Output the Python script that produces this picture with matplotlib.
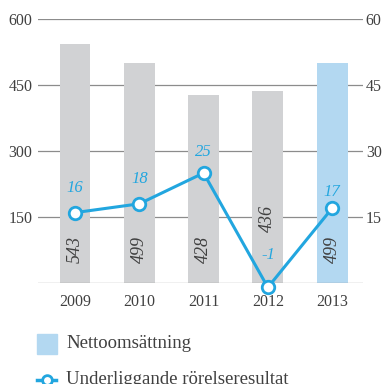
import matplotlib.pyplot as plt
from matplotlib.patches import Rectangle
from matplotlib.lines import Line2D

years = ["2009", "2010", "2011", "2012", "2013"]
sales = [543, 499, 428, 436, 499]
result = [16, 18, 25, -1, 17]
left_ticks = [150, 300, 450, 600]
right_ticks = [15, 30, 45, 60]

GRAY_BAR = "#d1d2d4"
BLUE_BAR = "#b3d8f1"
BLUE = "#22a6df"
TEXT = "#404040"
GRID = "#8c8c8c"

plt.rcParams["font.family"] = ["Liberation Serif", "DejaVu Serif"]

fig = plt.figure(figsize=(3.86, 3.84), dpi=100)
ax = fig.add_axes([0.0984, 0.263, 0.842, 0.6875])
ax2 = ax.twinx()

x = list(range(len(years)))
colors = [GRAY_BAR] * (len(years) - 1) + [BLUE_BAR]
ax.bar(x, sales, width=0.48, color=colors, zorder=2)

ax.set_xlim(-0.576, 4.48)
ax.set_ylim(0, 600)
ax2.set_ylim(0, 60)

# gridlines and baseline
for v in left_ticks:
    ax.axhline(v, color=GRID, lw=0.9, zorder=1)
ax.axhline(0, color=GRID, lw=0.9, zorder=3)

ax.set_yticks(left_ticks)
ax.set_yticklabels([str(v) for v in left_ticks])
ax2.set_yticks(right_ticks)
ax2.set_yticklabels([str(v) for v in right_ticks])
ax.set_xticks(x)
ax.set_xticklabels(years)

ax.tick_params(axis="y", length=0, pad=4, labelsize=11.5, labelcolor=TEXT)
ax2.tick_params(axis="y", length=0, pad=2, labelsize=11.5, labelcolor=TEXT)
ax.tick_params(axis="x", length=0, pad=8, labelsize=11.5, labelcolor=TEXT)

for a in (ax, ax2):
    for s in a.spines.values():
        s.set_visible(False)

# sales values inside bars
for i, v in enumerate(sales):
    ypos = 147 if i == 3 else 77
    ax.text(i, ypos, str(v), rotation=90, ha="center", va="center",
            fontsize=13, style="italic", color=TEXT, zorder=4)

# result line on right axis
ax2.plot(x, result, color=BLUE, lw=2.2, marker="o", markersize=9,
         markerfacecolor="white", markeredgecolor=BLUE, markeredgewidth=2,
         zorder=5, clip_on=False)
offsets = [18, 18, 15, 23, 12]
for i, v in enumerate(result):
    ax2.annotate(str(v), (i, v), xytext=(0, offsets[i]), textcoords="offset points",
                 ha="center", va="center", fontsize=12, style="italic", color=BLUE,
                 annotation_clip=False)

# legend
fig.patches.append(Rectangle((37 / 386, 1 - 354 / 384), 20 / 386, 20 / 384,
                             transform=fig.transFigure, color=BLUE_BAR))
fig.text(66 / 386, 1 - 344 / 384, "Nettoomsättning", fontsize=13.5, color=TEXT,
         va="center", ha="left")
fig.lines.append(Line2D([37 / 386, 56 / 386], [1 - 380 / 384, 1 - 380 / 384],
                        transform=fig.transFigure, color=BLUE, lw=2.5))
fig.lines.append(Line2D([47 / 386], [1 - 380 / 384], transform=fig.transFigure,
                        marker="o", markersize=7, markerfacecolor="white",
                        markeredgecolor=BLUE, markeredgewidth=2))
fig.text(66 / 386, 1 - 379 / 384, "Underliggande rörelseresultat", fontsize=13.5,
         color=TEXT, va="center", ha="left")

fig.savefig("out.png", dpi=100)
